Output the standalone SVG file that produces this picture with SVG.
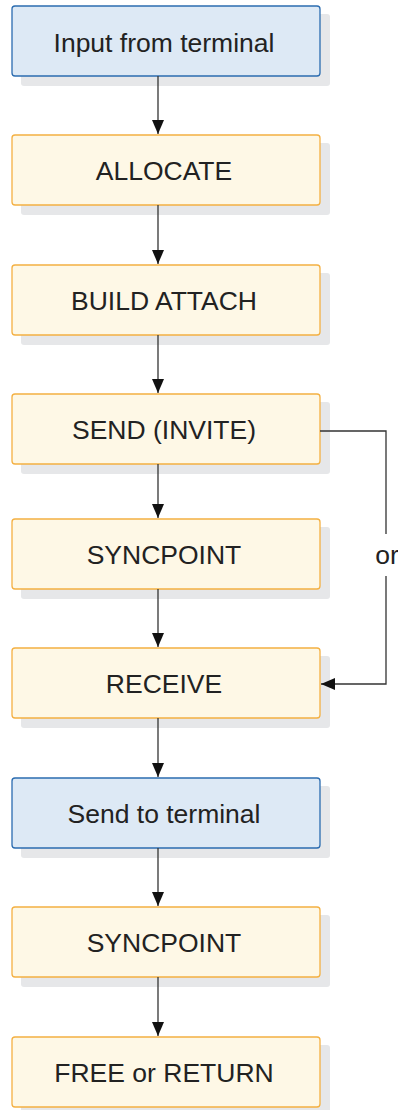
<svg xmlns="http://www.w3.org/2000/svg" width="398" height="1110" viewBox="0 0 398 1110">
<defs>
<style>
.sh{fill:#e6e7e9}
.blue{fill:#dde9f5;stroke:#2b6cb0;stroke-width:1.3}
.org{fill:#fef8e6;stroke:#f4b042;stroke-width:1.3}
.t{font-family:"Liberation Sans",Arial,sans-serif;font-size:26.5px;fill:#222;text-anchor:middle}
.c{fill:none;stroke:#333;stroke-width:1.3}
</style>
<marker id="ah" viewBox="0 0 14 12" refX="14" refY="6" markerWidth="14" markerHeight="12" markerUnits="userSpaceOnUse" orient="auto">
<path d="M0,0 L14,6 L0,12 Z" fill="#111"/>
</marker>
</defs>
<g id="n1"><rect class="sh" x="21" y="14" width="309" height="72" rx="3"/><rect class="blue" x="12" y="6" width="308" height="70" rx="3"/><text class="t" x="164" y="52">Input from terminal</text></g>
<g id="n2"><rect class="sh" x="21" y="143" width="309" height="72" rx="3"/><rect class="org" x="12" y="135" width="308" height="70" rx="3"/><text class="t" x="164" y="180">ALLOCATE</text></g>
<g id="n3"><rect class="sh" x="21" y="273" width="309" height="72" rx="3"/><rect class="org" x="12" y="265" width="308" height="70" rx="3"/><text class="t" x="164" y="310">BUILD ATTACH</text></g>
<g id="n4"><rect class="sh" x="21" y="402" width="309" height="72" rx="3"/><rect class="org" x="12" y="394" width="308" height="70" rx="3"/><text class="t" x="164" y="439">SEND (INVITE)</text></g>
<g id="n5"><rect class="sh" x="21" y="527" width="309" height="72" rx="3"/><rect class="org" x="12" y="519" width="308" height="70" rx="3"/><text class="t" x="164" y="564">SYNCPOINT</text></g>
<g id="n6"><rect class="sh" x="21" y="656" width="309" height="72" rx="3"/><rect class="org" x="12" y="648" width="308" height="70" rx="3"/><text class="t" x="164" y="693">RECEIVE</text></g>
<g id="n7"><rect class="sh" x="21" y="786" width="309" height="72" rx="3"/><rect class="blue" x="12" y="778" width="308" height="70" rx="3"/><text class="t" x="164" y="823">Send to terminal</text></g>
<g id="n8"><rect class="sh" x="21" y="915" width="309" height="72" rx="3"/><rect class="org" x="12" y="907" width="308" height="70" rx="3"/><text class="t" x="164" y="952">SYNCPOINT</text></g>
<g id="n9"><rect class="sh" x="21" y="1045" width="309" height="72" rx="3"/><rect class="org" x="12" y="1037" width="308" height="70" rx="3"/><text class="t" x="164" y="1082">FREE or RETURN</text></g>
<g id="connectors">
<line class="c" x1="158" y1="76" x2="158" y2="134" marker-end="url(#ah)"/>
<line class="c" x1="158" y1="205" x2="158" y2="264" marker-end="url(#ah)"/>
<line class="c" x1="158" y1="335" x2="158" y2="393" marker-end="url(#ah)"/>
<line class="c" x1="158" y1="464" x2="158" y2="518" marker-end="url(#ah)"/>
<line class="c" x1="158" y1="589" x2="158" y2="647" marker-end="url(#ah)"/>
<line class="c" x1="158" y1="718" x2="158" y2="777" marker-end="url(#ah)"/>
<line class="c" x1="158" y1="848" x2="158" y2="906" marker-end="url(#ah)"/>
<line class="c" x1="158" y1="977" x2="158" y2="1036" marker-end="url(#ah)"/>
<polyline class="c" points="320,431 386,431 386,534"/>
<polyline class="c" points="386,576 386,684 321,684" marker-end="url(#ah)"/>
<text class="t" x="387" y="564">or</text>
</g>
</svg>
